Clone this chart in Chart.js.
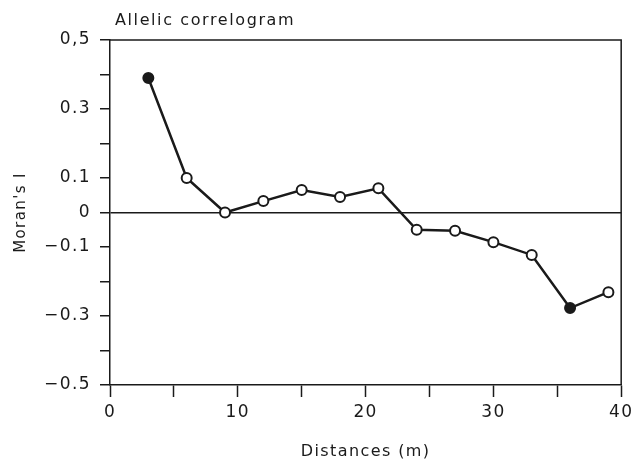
<!DOCTYPE html>
<html lang="en">
<head>
    <meta charset="UTF-8">
    <script src="https://cdn.jsdelivr.net/npm/chart.js"></script>
    <title>Allelic correlogram</title>
    <style>
        body { margin: 0; background: #fff; }
        #box { width: 637px; height: 465px; }
    </style>
</head>
<body>
    <div id="box"><canvas id="grafico"></canvas></div>

<script>
    var distancias = [3, 6, 9, 12, 15, 18, 21, 24, 27, 30, 33, 36, 39]
    var moranI = [0.39, 0.10, 0.00, 0.033, 0.065, 0.045, 0.07, -0.05, -0.053, -0.086, -0.123, -0.277, -0.231]
    var significativo = [true, false, false, false, false, false, false, false, false, false, false, true, false]
    var rotulosY = { '0.5': '0,5', '0.3': '0.3', '0.1': '0.1', '0': '0', '-0.1': '\u22120.1', '-0.3': '\u22120.3', '-0.5': '\u22120.5' }
    var rotulosX = [0, 10, 20, 30, 40]

    const preto = '#1a1a1a'
    const fonte = "'DejaVu Sans', sans-serif"

    var pontos = distancias.map((d, i) => ({ x: d, y: moranI[i] }))

    // espaçamento das letras, parecido com o original
    const espacamento = {
        id: 'espacamento',
        beforeInit(chart) { chart.ctx.letterSpacing = '1.4px' },
        beforeDraw(chart) { chart.ctx.letterSpacing = '1.4px' }
    }

    // moldura + titulo
    const moldura = {
        id: 'moldura',
        afterDraw(chart) {
            const c = chart.ctx, a = chart.chartArea
            c.save()
            c.strokeStyle = preto
            c.lineWidth = 1.5
            c.beginPath()
            c.moveTo(a.left, a.top)
            c.lineTo(a.right, a.top)
            c.lineTo(a.right, a.bottom)
            c.stroke()
            c.fillStyle = preto
            c.font = "16px " + fonte
            c.letterSpacing = '1.6px'
            c.textBaseline = 'middle'
            c.fillText('Allelic correlogram', a.left + 5, 21)
            c.restore()
        }
    }

    new Chart(document.getElementById('grafico'), {
        type: 'scatter',
        data: {
            datasets: [{
                data: pontos,
                showLine: true,
                borderColor: preto,
                borderWidth: 2.5,
                pointRadius: 5,
                pointBorderWidth: 2,
                pointBorderColor: preto,
                pointBackgroundColor: significativo.map(s => s ? preto : '#fff')
            }]
        },
        options: {
            responsive: true,
            maintainAspectRatio: false,
            animation: false,
            layout: { padding: { top: 40, right: 14, left: 0, bottom: 0 } },
            plugins: { legend: { display: false }, tooltip: { enabled: false } },
            scales: {
                x: {
                    type: 'linear',
                    min: 0, max: 40,
                    afterFit: s => { s.height = 80 },
                    border: { color: preto, width: 1.5 },
                    grid: { drawOnChartArea: false, tickColor: preto, tickLength: 12, tickWidth: 1.5 },
                    ticks: {
                        stepSize: 5, color: preto, padding: 5,
                        font: { family: fonte, size: 17 },
                        callback: v => rotulosX.includes(v) ? String(v) : ''
                    },
                    title: { display: true, text: 'Distances (m)', color: preto, font: { family: fonte, size: 16 }, padding: { top: 10 } }
                },
                y: {
                    min: -0.5, max: 0.5,
                    afterFit: s => { s.width = 110 },
                    border: { color: preto, width: 1.5 },
                    grid: {
                        color: c => Math.abs(c.tick.value) < 1e-9 ? preto : 'transparent',
                        lineWidth: 1.5,
                        tickColor: preto, tickLength: 10, tickWidth: 1.5
                    },
                    ticks: {
                        stepSize: 0.1, color: preto, padding: 9,
                        font: { family: fonte, size: 17 },
                        callback: v => {
                            var k = String(Math.round(v * 10) / 10)
                            return rotulosY[k] !== undefined ? rotulosY[k] : ''
                        }
                    },
                    title: { display: true, text: "Moran's I", color: preto, font: { family: fonte, size: 15 }, padding: { top: 12 } }
                }
            }
        },
        plugins: [espacamento, moldura]
    });
</script>
</body>
</html>
